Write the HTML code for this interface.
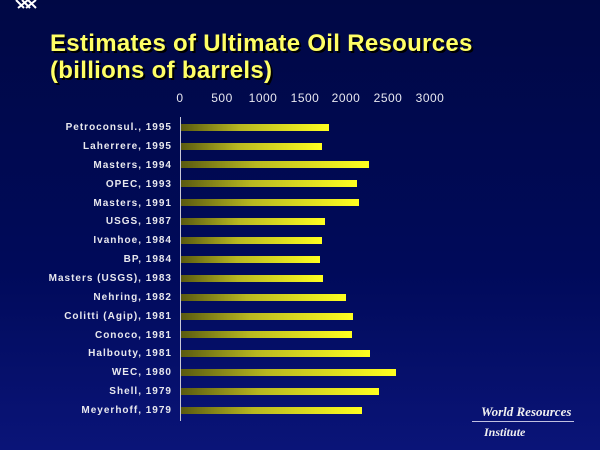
<!DOCTYPE html>
<html><head><style>
html,body{margin:0;padding:0}
body{width:600px;height:450px;overflow:hidden;background:linear-gradient(#000845 0%,#000a5a 60%,#0a1478 100%);position:relative;font-family:"Liberation Sans",sans-serif}
.t{position:absolute;left:50px;color:#ffff66;font-weight:bold;font-size:24px;text-shadow:2px 2px 0 #000;white-space:nowrap;letter-spacing:0.3px}
.tick{position:absolute;top:91px;color:#e8e8f0;font-size:12px;width:40px;text-align:center;letter-spacing:0.5px}
.lab{position:absolute;right:428px;color:#e8e8ee;font-size:10px;font-weight:bold;letter-spacing:1px;white-space:nowrap;text-align:right;margin-top:2px}
.bar{position:absolute;left:181px;height:7px;background:linear-gradient(90deg,#5a5a10,#b8b820 40%,#ffff20)}
</style></head><body>
<svg style="position:absolute;left:14px;top:0" width="30" height="12"><path d="M2 0 L10 8 M8 0 L16 8 M14 0 L22 8 M4 8 L14 0 M12 8 L22 0" stroke="#fff" stroke-width="2"/></svg>
<div class="t" style="top:30px">Estimates of Ultimate Oil Resources</div>
<div class="t" style="top:57px">(billions of barrels)</div>
<div class="tick" style="left:160px">0</div>
<div class="tick" style="left:202px">500</div>
<div class="tick" style="left:243px">1000</div>
<div class="tick" style="left:285px">1500</div>
<div class="tick" style="left:326px">2000</div>
<div class="tick" style="left:368px">2500</div>
<div class="tick" style="left:410px">3000</div>
<div style="position:absolute;left:180px;top:117px;width:1px;height:304px;background:#c8c8d8"></div>
<div class="lab" style="top:120px">Petroconsul., 1995</div><div class="bar" style="top:124px;width:148px"></div>
<div class="lab" style="top:139px">Laherrere, 1995</div><div class="bar" style="top:143px;width:141px"></div>
<div class="lab" style="top:158px">Masters, 1994</div><div class="bar" style="top:161px;width:188px"></div>
<div class="lab" style="top:177px">OPEC, 1993</div><div class="bar" style="top:180px;width:176px"></div>
<div class="lab" style="top:196px">Masters, 1991</div><div class="bar" style="top:199px;width:178px"></div>
<div class="lab" style="top:214px">USGS, 1987</div><div class="bar" style="top:218px;width:144px"></div>
<div class="lab" style="top:233px">Ivanhoe, 1984</div><div class="bar" style="top:237px;width:141px"></div>
<div class="lab" style="top:252px">BP, 1984</div><div class="bar" style="top:256px;width:139px"></div>
<div class="lab" style="top:271px">Masters (USGS), 1983</div><div class="bar" style="top:275px;width:142px"></div>
<div class="lab" style="top:290px">Nehring, 1982</div><div class="bar" style="top:294px;width:165px"></div>
<div class="lab" style="top:309px">Colitti (Agip), 1981</div><div class="bar" style="top:313px;width:172px"></div>
<div class="lab" style="top:328px">Conoco, 1981</div><div class="bar" style="top:331px;width:171px"></div>
<div class="lab" style="top:346px">Halbouty, 1981</div><div class="bar" style="top:350px;width:189px"></div>
<div class="lab" style="top:365px">WEC, 1980</div><div class="bar" style="top:369px;width:215px"></div>
<div class="lab" style="top:384px">Shell, 1979</div><div class="bar" style="top:388px;width:198px"></div>
<div class="lab" style="top:403px">Meyerhoff, 1979</div><div class="bar" style="top:407px;width:181px"></div>
<div style="position:absolute;left:481px;top:404px;color:#f0f0f0;font-family:'Liberation Serif',serif;font-style:italic;font-weight:bold;font-size:13px">World Resources</div>
<div style="position:absolute;left:472px;top:421px;width:102px;height:1px;background:#c0c0e0"></div>
<div style="position:absolute;left:484px;top:425px;color:#f0f0f0;font-family:'Liberation Serif',serif;font-style:italic;font-weight:bold;font-size:12px">Institute</div>
</body></html>
